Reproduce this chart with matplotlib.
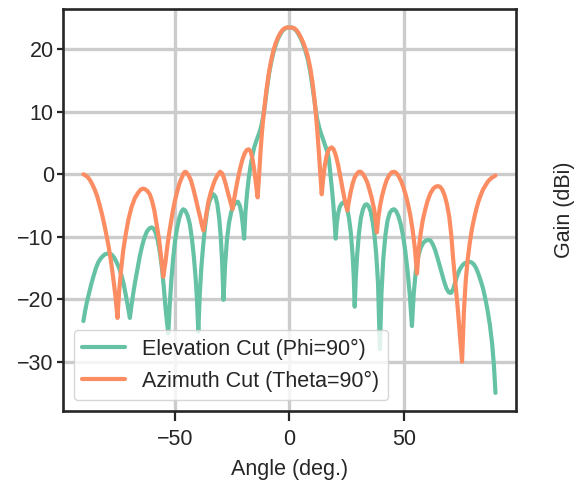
import matplotlib
matplotlib.use("Agg")
import matplotlib.pyplot as plt
from matplotlib.ticker import MultipleLocator
import seaborn as sns

# elevation cut (phi = 90 deg)
elev_angle = [-90, -89.3, -88.5, -87.5, -86.5, -85.5, -84.5, -83.5, -82.5, -81.5, -80.5,
              -79.5, -78.5, -77.5, -76.5, -75.5, -74.5, -73.5, -72.5, -71.5, -70.5, -69.7,
              -69, -68.2, -67.3, -66.3, -65.3, -64.3, -63.3, -62.3, -61.3, -60.2, -59.3,
              -58.4, -57.5, -56.6, -55.7, -54.9, -54.1, -53.4, -52.9, -52.3, -51.6, -50.8,
              -50, -49.1, -48.1, -47.2, -46.4, -45.5, -44.5, -43.5, -42.6, -41.8, -41,
              -40.4, -39.8, -39.2, -38.5, -37.7, -36.9, -36, -35.1, -34.1, -33.2, -32.3,
              -31.5, -30.7, -30, -29.4, -28.8, -28.1, -27.3, -26.4, -25.4, -24.4, -23.4,
              -22.5, -21.7, -21, -20.4, -19.8, -19.2, -18.5, -17.8, -17, -16.2, -15.4,
              -14.6, -13.8, -13, -12.2, -11.4, -10.7, -10, -9, -8, -7, -6, -5, -4, -3,
              -2, -1, 0,
              1, 2, 3, 4, 5, 6, 7, 8, 9, 10, 10.8, 11.5, 12.2, 13, 13.8, 14.6, 15.4,
              16.2, 16.8, 17.4, 18, 18.6, 19.2, 19.7, 20.2, 20.7, 21.3, 22, 22.8, 23.6,
              24.4, 25.2, 26, 26.8, 27.6, 28.1, 28.5, 29, 29.6, 30.4, 31.2, 32.1, 33,
              33.8, 34.6, 35.5, 36.3, 37.1, 37.9, 38.7, 39.5, 40.2, 41, 41.9, 42.8, 43.8,
              44.8, 45.7, 46.6, 47.6, 48.6, 49.6, 50.6, 51.6, 52.6, 53.5, 54.3, 55.2,
              56.2, 57.3, 58.4, 59.6, 60.6, 61.6, 62.6, 63.6, 64.6, 65.6, 66.6, 67.6,
              68.6, 69.6, 70.6, 71.5, 72.4, 73.3, 74.3, 75.3, 76.3, 77.4, 78.5, 79.5,
              80.5, 81.5, 82.5, 83.5, 84.5, 85.5, 86.5, 87.5, 88.5, 89.3, 90]
elev_gain = [-23.5, -22.0, -20.5, -19.0, -17.5, -16.2, -15.0, -14.1, -13.5, -13.1, -12.8,
             -12.7, -12.7, -12.9, -13.4, -14.1, -14.9, -16.0, -17.4, -19.3, -21.3, -23.0,
             -21.0, -19.0, -17.0, -15.0, -13.0, -11.4, -10.1, -9.2, -8.7, -8.5, -8.7,
             -9.4, -10.6, -12.5, -15.0, -18.0, -21.5, -24.0, -25.5, -21.0, -17.0, -13.5,
             -10.8, -8.7, -7.0, -6.0, -5.6, -5.8, -6.6, -8.0, -10.3, -13.0, -16.5,
             -20.0, -25.2, -19.5, -15.0, -11.5, -8.5, -6.0, -4.5, -3.6, -3.2, -3.6,
             -4.8, -7.0, -10.0, -14.0, -20.1, -14.5, -10.5, -7.8, -6.0, -5.0, -4.5,
             -4.4, -5.0, -6.2, -8.0, -10.3, -6.0, -3.0, -0.7, 1.3, 3.0, 4.3,
             5.2, 6.0, 6.8, 7.9, 9.4, 11.1, 13.2, 15.9, 17.9, 19.5, 20.7, 21.7, 22.4, 23.0,
             23.3, 23.5, 23.5,
             23.5, 23.3, 23.0, 22.4, 21.7, 20.8, 19.7, 18.4, 16.6, 14.2, 12.0, 10.2, 8.7, 7.5, 6.5, 5.7, 4.8,
             4.0, 3.3, 1.8, -0.3, -2.5, -5.0, -7.5, -10.3, -7.8, -6.2, -5.2, -4.7, -4.5,
             -4.7, -5.5, -7.0, -9.3, -13.0, -16.5, -21.2, -16.5, -12.8, -9.3, -7.0, -5.6, -4.9,
             -4.8, -5.1, -6.0, -7.5, -9.6, -12.8, -17.5, -28.0, -19.0, -13.5, -9.8, -7.5, -6.2,
             -5.7, -5.6, -5.9, -6.7, -8.0, -9.8, -12.3, -15.5, -19.5, -24.3, -19.0, -15.5,
             -13.2, -11.8, -11.0, -10.6, -10.5, -10.6, -11.2, -12.1, -13.3, -14.6, -15.9, -17.2,
             -18.3, -18.9, -19.0, -18.4, -17.3, -16.2, -15.3, -14.7, -14.3, -14.1, -14.0, -14.1,
             -14.4, -15.0, -15.9, -17.0, -18.2, -19.8, -21.7, -24.0, -27.0, -30.5, -35.0]

# azimuth cut (theta = 90 deg)
azim_angle = [-90, -89, -88, -87, -86, -85, -84, -83, -82, -81, -80, -79, -78, -77, -76,
              -75.1, -74.4, -73.6, -72.6, -71.5, -70.3, -69, -67.5, -66, -64.8, -63.9,
              -63, -62, -61, -60, -59, -58, -57, -56.2, -55.1, -54.2, -53.5, -52.7,
              -51.9, -51, -50, -49, -48, -47, -46.2, -45.6, -45, -44, -43, -42, -41,
              -40, -39, -38.2, -37.6, -37, -36.2, -35.4, -34.5, -33.5, -32.5, -31.5,
              -30.3, -29.5, -28.7, -27.8, -26.9, -26, -25.3, -24.9, -24.3, -23.5,
              -22.5, -21.5, -20.5, -19.5, -18.6, -17.8, -17, -16.2, -15.4, -14.6,
              -13.9, -13.3, -12.7, -12, -11, -10, -9, -8, -7, -6, -5, -4, -3, -2, -1, 0,
              1, 2, 3, 4, 5, 6, 7, 8, 9, 10, 11, 12, 12.8, 13.5, 14.1, 14.7, 15.4, 16.2,
              17, 17.8, 18.5, 19.3, 20.2, 21.2, 22.2, 23.2, 24.2, 25.3, 25.9, 26.7,
              27.6, 28.5, 29.5, 30.3, 31.1, 32, 33, 34, 35, 36, 37, 37.6, 38.2, 38.8,
              39.6, 40.5, 41.5, 42.5, 43.5, 44.6, 45.7, 46.7, 47.7, 48.8, 49.8, 50.8,
              51.8, 52.8, 53.8, 54.8, 55.7, 56.5, 57.3, 58.2, 59.2, 60.3, 61.5, 62.8,
              63.8, 64.8, 65.8, 66.8, 67.8, 68.8, 69.8, 70.7, 71.5, 72.4, 73.5, 74.4,
              75.4, 76.2, 77, 77.9, 78.8, 79.7, 80.7, 81.6, 82.6, 83.6, 84.6, 85.6,
              86.6, 87.6, 88.6, 89.5, 90]
azim_gain = [0.0, -0.2, -0.5, -1.0, -1.7, -2.5, -3.5, -4.8, -6.2, -7.8, -9.6, -11.5, -13.8, -16.5, -19.5,
             -23.0, -18.8, -15.5, -12.2, -9.6, -7.2, -5.3, -3.8, -2.9, -2.4, -2.3,
             -2.4, -2.7, -3.2, -4.3, -5.8, -8.0, -10.3, -12.8, -16.4, -14.2, -12.0, -9.8,
             -8.0, -6.0, -4.2, -2.7, -1.4, -0.5, 0.2, 0.4, 0.3, -0.2, -1.0, -2.3, -3.8,
             -5.4, -6.9, -8.2, -9.0, -7.9, -6.1, -4.4, -3.1, -1.9, -0.9, -0.2,
             0.4, 0.2, -0.5, -1.6, -2.9, -4.1, -5.0, -5.6, -4.3, -2.6,
             -0.7, 1.0, 2.4, 3.4, 3.9, 4.0, 3.7, 2.6, 0.8, -1.6,
             -3.7, -0.5, 3.2, 6.8, 10.5, 13.6, 16.2, 18.2, 19.8, 21.0, 21.9, 22.6, 23.1, 23.4, 23.5, 23.5,
             23.5, 23.4, 23.1, 22.6, 21.9, 21.1, 20.1, 18.9, 17.2, 14.9, 11.8, 7.8, 3.8, 0.0, -3.2, -0.8, 1.3, 2.9,
             3.8, 4.2, 4.3, 4.0, 3.1, 1.6, -0.3, -2.3, -4.2, -5.8, -4.5, -2.9,
             -1.5, -0.5, 0.1, 0.4, 0.4, 0.1, -0.5, -1.3, -2.5, -3.9, -5.6, -7.3, -9.3, -7.0,
             -5.0, -3.4, -2.0, -0.9, -0.2, 0.3, 0.4, 0.2, -0.3, -1.1, -2.1, -3.3,
             -4.8, -6.6, -8.9, -11.9, -15.9, -12.0, -9.5, -7.4, -5.8, -4.3, -3.1, -2.3,
             -2.0, -1.9, -2.0, -2.5, -3.4, -4.8, -6.8, -9.8, -13.5, -17.0, -21.4, -25.5,
             -30.0, -22.0, -17.0, -13.5, -10.9, -8.8, -7.0, -5.6, -4.3, -3.3, -2.4, -1.8,
             -1.2, -0.8, -0.5, -0.3, -0.2]

sns.set_theme(style="ticks", rc={"axes.grid": True})
plt.rcParams['font.family'] = ['Liberation Sans', 'DejaVu Sans']
colors = sns.color_palette("Set2")

fig = plt.figure(figsize=(5.76, 4.86), dpi=100)
ax = fig.add_axes([0.109, 0.154, 0.787, 0.827])

ax.plot(elev_angle, elev_gain, color=colors[0], lw=3.0, label="Elevation Cut (Phi=90°)")
ax.plot(azim_angle, azim_gain, color=colors[1], lw=3.0, label="Azimuth Cut (Theta=90°)")

ax.grid(True, color=".8", lw=2.4)
for s in ax.spines.values():
    s.set_linewidth(1.9)
    s.set_color("#262626")
ax.tick_params(axis="y", labelsize=15.5, width=1.6, length=4.5, pad=2)
ax.tick_params(axis="x", labelsize=15.5, width=1.6, length=7, pad=6)
ax.xaxis.set_major_locator(MultipleLocator(50))

ax.set_xlabel("Angle (deg.)", fontsize=15.5, labelpad=6)
ax.set_ylabel("Gain (dBi)", fontsize=15.5)
ax.yaxis.set_label_coords(1.13, 0.5)
ax.legend(loc="lower left", fontsize=15.5)

fig.savefig("out.png", dpi=100)
